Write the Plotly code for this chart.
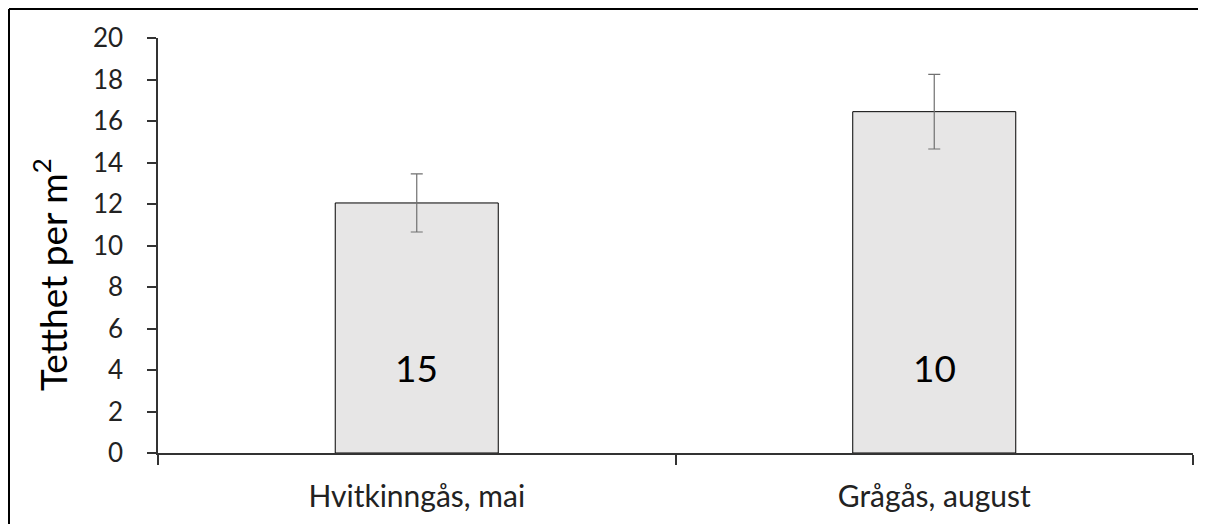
import plotly.graph_objects as go

categories = ["Hvitkinngås, mai", "Grågås, august"]
values = [12.05, 16.45]
errors = [1.4, 1.8]
counts = ["15", "10"]
y_ticks = list(range(0, 21, 2))
y_title = "Tetthet per m<sup>2</sup>"

FONT = "Lato"

# page has an 8px body margin, so figure coords = reference coords - 8
W, H = 1198, 516
L, R, T, B = 150, 13, 30, 71
pw, ph = W - L - R, H - T - B

fig = go.Figure()
fig.add_trace(go.Bar(
    x=categories, y=values, width=0.315,
    marker=dict(color="#E7E6E6", line=dict(color="#000000", width=1)),
    error_y=dict(type="data", array=errors, visible=True,
                 color="#707070", thickness=1.2, width=6),
    showlegend=False, hoverinfo="skip",
))

for c, n in zip(categories, counts):
    fig.add_annotation(x=c, y=4.1, text=n, showarrow=False,
                       font=dict(family=FONT, size=37, color="#000000"))

# y-axis title as rotated annotation (sits below plot centre in reference)
fig.add_annotation(xref="paper", yref="paper",
                   x=(42 - L) / pw, y=1 - (267 - T) / ph,
                   text=y_title, textangle=-90, showarrow=False,
                   xanchor="center", yanchor="middle",
                   font=dict(family=FONT, size=37, color="#000000"))

# outer frame (left and top edges visible)
fx = (1 - L) / pw
fy = 1 + (T - 1) / ph
fig.add_shape(type="line", xref="paper", yref="paper", x0=fx, x1=fx, y0=-0.5, y1=fy,
              line=dict(color="#000000", width=2))
fig.add_shape(type="line", xref="paper", yref="paper", x0=fx, x1=1.5, y0=fy, y1=fy,
              line=dict(color="#000000", width=2))

fig.update_layout(
    width=W, height=H,
    margin=dict(l=L, r=R, t=T, b=B, autoexpand=False),
    paper_bgcolor="#FFFFFF", plot_bgcolor="#FFFFFF",
    font=dict(family=FONT, color="#222222"),
)
fig.update_xaxes(
    showline=True, linecolor="#333333", linewidth=1.5,
    ticks="outside", tickson="boundaries", ticklen=10, tickcolor="#333333", tickwidth=1.5,
    tickfont=dict(size=30, family=FONT, color="#222222"),
    ticklabelstandoff=16,
    showgrid=False, zeroline=False,
)
fig.update_yaxes(
    range=[0, 20], tickvals=y_ticks, ticktext=[str(v) for v in y_ticks],
    showline=True, linecolor="#333333", linewidth=1.5,
    ticks="outside", ticklen=9, tickcolor="#333333", tickwidth=1.5,
    tickfont=dict(size=26, family=FONT, color="#222222"),
    ticklabelstandoff=19,
    showgrid=False, zeroline=False,
)

fig.write_html("out.html")
